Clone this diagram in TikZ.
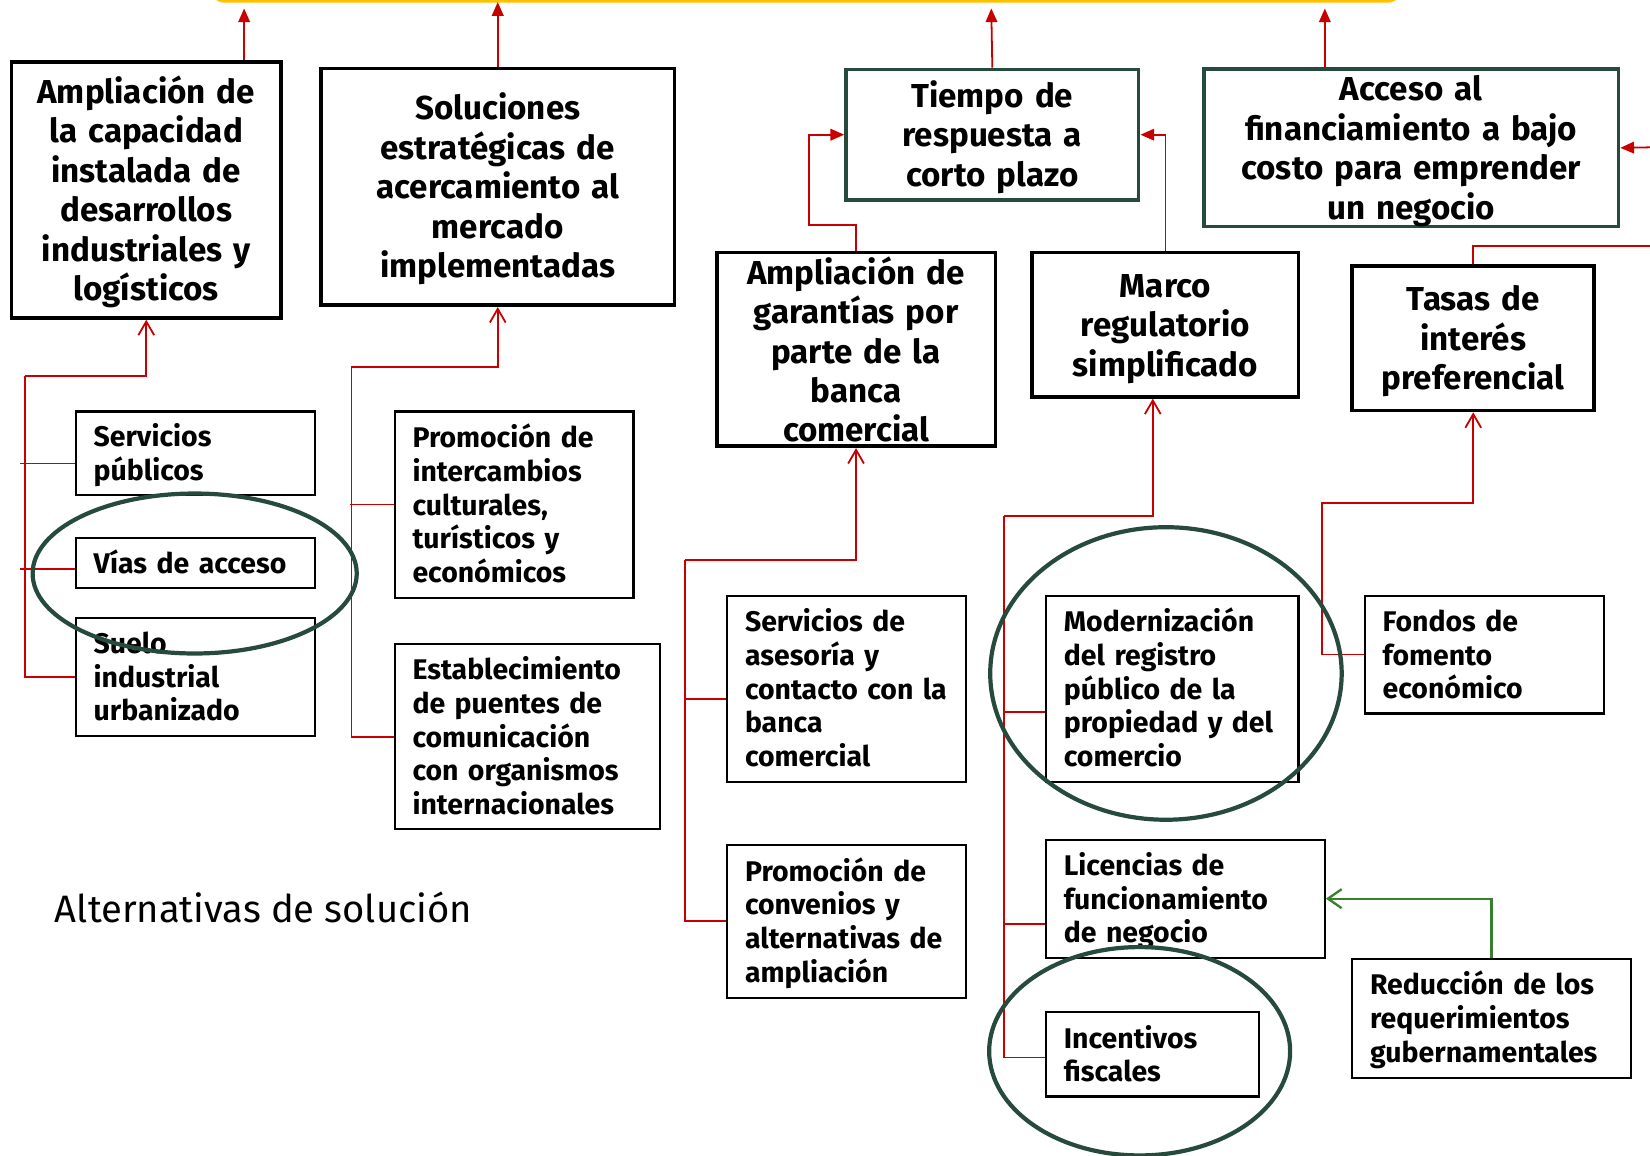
\documentclass[tikz,border=0pt]{standalone}
\usepackage{fontspec}
\setmainfont{Fira Sans}
\usetikzlibrary{arrows.meta}

\definecolor{linkred}{RGB}{200,0,0}
\definecolor{slategreen}{RGB}{38,74,60}
\definecolor{leafgreen}{RGB}{56,128,44}
\definecolor{amber}{RGB}{255,192,0}

% struts that fix the first baseline and the last depth of a text block
\newcommand\bigtop{\rule{0pt}{30pt}}
\newcommand\bigbot{\rule[-4pt]{0pt}{4pt}}
\newcommand\smalltop{\rule{0pt}{27pt}}
\newcommand\smallbot{\rule[-7pt]{0pt}{7pt}}

\begin{document}
\begin{tikzpicture}[x=1pt,y=-1pt,
  bigbox/.style={draw=black, line width=3.6pt, align=center, inner sep=0pt,
    font=\bfseries\fontsize{31.5}{37.5}\selectfont,
    execute at begin node=\bigtop, execute at end node=\bigbot},
  goalbox/.style={bigbox, draw=slategreen},
  smallbox/.style={draw=black, line width=2pt, align=left, inner xsep=17pt, inner ysep=0pt,
    font=\bfseries\fontsize{27}{32}\selectfont,
    execute at begin node=\smalltop, execute at end node=\smallbot},
  link/.style={draw=linkred, line width=1.7pt},
  uparrow/.style={link, -{Triangle[length=13pt,width=11pt]}},
  openarrow/.style={link, -{Straight Barb[length=13pt,width=15pt]}},
  greenarrow/.style={draw=leafgreen, line width=2.2pt, -{Straight Barb[length=13pt,width=18pt]}},
  halo/.style={draw=slategreen, line width=4pt}
]
\useasboundingbox (0,0) rectangle (1568,1098);

% band above the top row
\draw[amber, line width=3.2pt, rounded corners=14pt] (200,-60) rectangle (1332,1);
\coordinate (topA) at (232,8);
\coordinate (topB) at (473,2);
\coordinate (topC) at (942,8);
\coordinate (topD) at (1259,8);
\coordinate (edgeA) at (1568,140);
\coordinate (edgeB) at (1568,234);

% upper row
\node[bigbox, minimum width=256pt, minimum height=243pt, text width=246pt] (cap) at (139,180.5)
  {Ampliación de\\la capacidad\\instalada de\\desarrollos\\industriales y\\logísticos};
\node[bigbox, minimum width=336pt, minimum height=225pt, text width=326pt] (sol) at (473,177.5)
  {Soluciones\\estratégicas de\\acercamiento al\\mercado\\implementadas};
\node[goalbox, minimum width=278pt, minimum height=124pt, text width=268pt] (tie) at (943,128)
  {Tiempo de\\respuesta a\\corto plazo};
\node[goalbox, minimum width=394pt, minimum height=149pt, text width=384pt] (acc) at (1341,140.5)
  {Acceso al\\financiamiento a bajo\\costo para emprender\\un negocio};
\node[bigbox, minimum width=265pt, minimum height=184pt, text width=255pt] (gar) at (813.5,332)
  {Ampliación de\\garantías por\\parte de la\\banca\\comercial};
\node[bigbox, minimum width=253pt, minimum height=137pt, text width=243pt] (mar) at (1107.5,308.5)
  {Marco\\regulatorio\\simplificado};
\node[bigbox, minimum width=230pt, minimum height=137pt, text width=220pt] (tas) at (1400,321.5)
  {Tasas de\\interés\\preferencial};

% alternatives
\node[smallbox, minimum height=79pt, text width=193pt] (srv) at (185.5,430.5) {Servicios\\públicos};
\node[smallbox, minimum height=48pt, text width=193pt] (via) at (185.5,535) {Vías de acceso};
\node[smallbox, minimum height=112pt, text width=193pt] (sue) at (185.5,643) {Suelo\\industrial\\urbanizado};
\node[smallbox, minimum height=177pt, text width=193pt] (cul) at (488.5,479.5)
  {Promoción de\\intercambios\\culturales,\\turísticos y\\económicos};
\node[smallbox, minimum height=176pt, text width=218pt] (pue) at (501,700)
  {Establecimiento\\de puentes de\\comunicación\\con organismos\\internacionales};
\node[smallbox, minimum height=177pt, text width=193pt] (ase) at (804.5,654.5)
  {Servicios de\\asesoría y\\contacto con la\\banca\\comercial};
\node[smallbox, minimum height=145pt, text width=193pt] (con) at (804.5,875.5)
  {Promoción de\\convenios y\\alternativas de\\ampliación};
\node[smallbox, minimum height=177pt, text width=206pt] (mod) at (1114,654.5)
  {Modernización\\del registro\\público de la\\propiedad y del\\comercio};
\node[smallbox, minimum height=112pt, text width=231pt] (lic) at (1126.5,854)
  {Licencias de\\funcionamiento\\de negocio};
\node[smallbox, minimum height=80pt, text width=168pt] (inc) at (1095,1002)
  {Incentivos\\fiscales};
\node[smallbox, minimum height=112pt, text width=193pt] (fon) at (1410.5,622)
  {Fondos de\\fomento\\económico};
\node[smallbox, minimum height=113pt, text width=231pt] (rdc) at (1417.5,967.5)
  {Reducción de los\\requerimientos\\gubernamentales};

\node[anchor=base west, inner sep=0pt, font=\fontsize{36.3}{44}\selectfont] (title) at (52,877)
  {Alternativas de solución};

% links to the band
\draw[uparrow] ([xshift=93pt]cap.north) -- (topA);
\draw[uparrow] (sol.north) -- (topB);
\draw[uparrow] (tie.north) -- (topC);
\draw[uparrow] ([xshift=-82pt]acc.north) -- (topD);

% links into the goals
\draw[uparrow] (edgeA) -- (acc.east);
\draw[link] (tas.north) |- (edgeB);
\coordinate (gk) at (769,214);
\draw[uparrow] (gar.north) |- (gk) |- (tie.west);
\draw[uparrow] (mar.north) |- (tie.east);

% first group
\coordinate (g1) at (24,357);
\draw[openarrow] (g1) -| (cap.south);
\draw[link] (g1) |- (sue.west);
\draw[link] ([yshift=-10pt]srv.west) -- +(-52pt,0);
\draw[link] ([yshift=-6pt]via.west) -- +(-52pt,0);

% second group
\coordinate (g2) at (334,349);
\draw[openarrow] (g2) -| (sol.south);
\draw[link] (g2) |- (pue.west);
\draw[link] (cul.west) -- +(-41pt,0);

% third group
\coordinate (g3) at (651,532);
\draw[openarrow] (g3) -| (gar.south);
\draw[link] (g3) |- (con.west);
\draw[link] ([yshift=-10pt]ase.west) -- +(-40pt,0);

% fourth group
\coordinate (g4) at (954,490);
\draw[openarrow] (g4) -| ([xshift=-12pt]mar.south);
\draw[link] (g4) |- ([yshift=-3pt]inc.west);
\draw[link] ([yshift=-22pt]mod.west) -- +(-40pt,0);
\draw[link] ([yshift=-24pt]lic.west) -- +(-40pt,0);

% fifth group
\coordinate (g5) at (1256,478);
\draw[openarrow] (fon.west) -| (g5) -| (tas.south);

% supporting link
\draw[greenarrow] (rdc.north) |- (lic.east);

% highlighted alternatives
\draw[halo] (185,545) ellipse [x radius=154pt, y radius=76pt];
\draw[halo] (1108,640) ellipse [x radius=167pt, y radius=139pt];
\draw[halo] (1083,999) ellipse [x radius=143pt, y radius=99pt];
\end{tikzpicture}
\end{document}
